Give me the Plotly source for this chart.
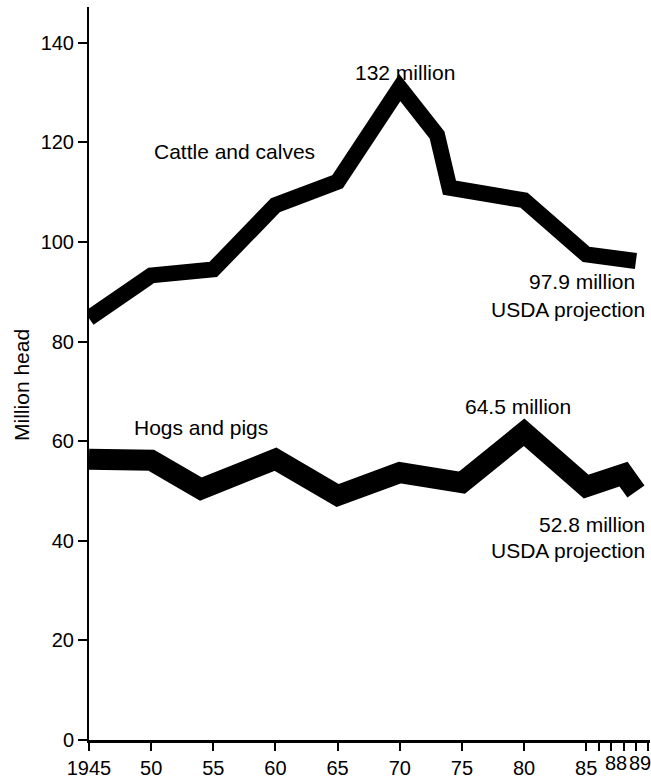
import plotly.graph_objects as go

# Data
cattle_years = [1945, 1950, 1955, 1960, 1965, 1970, 1973, 1974, 1980, 1985, 1989]
cattle_values = [84.7, 93.3, 94.5, 107.4, 112.1, 131.0, 121.5, 110.9, 108.4, 97.5, 96.2]

hog_years = [1945, 1950, 1954, 1960, 1965, 1970, 1975, 1980, 1985, 1988, 1989]
hog_values = [56.4, 56.2, 50.4, 56.4, 49.1, 53.7, 51.7, 61.8, 50.9, 53.4, 49.9]

x_tickvals = [1945, 1950, 1955, 1960, 1965, 1970, 1975, 1980, 1985, 1986, 1987, 1988, 1989, 1990]
x_ticktext = ["1945", "50", "55", "60", "65", "70", "75", "80", "85", "", "", "", "", ""]
y_tickvals = [0, 20, 40, 60, 80, 100, 120, 140]

FONT = "Liberation Sans, Arial, Helvetica, sans-serif"

fig = go.Figure()
fig.add_trace(go.Scatter(x=cattle_years, y=cattle_values, mode="lines",
                         line=dict(color="black", width=16), hoverinfo="skip"))
fig.add_trace(go.Scatter(x=hog_years, y=hog_values, mode="lines",
                         line=dict(color="black", width=21), hoverinfo="skip"))

ann_font = dict(family=FONT, size=21, color="black")
annotations = [
    dict(x=1970, y=134.1, text="132 million", xanchor="center", yanchor="middle", xshift=5),
    dict(x=1950.07, y=118.1, text="Cattle and calves", xanchor="left", yanchor="middle"),
    dict(x=1989.1, y=92.1, text="97.9 million", xanchor="right", yanchor="middle"),
    dict(x=1989.9, y=86.5, text="USDA projection", xanchor="right", yanchor="middle"),
    dict(x=1948.46, y=62.8, text="Hogs and pigs", xanchor="left", yanchor="middle"),
    dict(x=1979.5, y=66.9, text="64.5 million", xanchor="center", yanchor="middle"),
    dict(x=1989.9, y=43.3, text="52.8 million", xanchor="right", yanchor="middle"),
    dict(x=1989.9, y=38.0, text="USDA projection", xanchor="right", yanchor="middle"),
]
for a in annotations:
    a.update(xref="x", yref="y", showarrow=False, font=ann_font)

# y-axis title
annotations.append(dict(x=0, y=71.3, xref="paper", yref="y", text="Million head",
                        textangle=-90, showarrow=False, xanchor="center", yanchor="middle",
                        xshift=-67, font=ann_font))

# squeezed "88" "89" labels under the small ticks
annotations.append(dict(x=1987.4, y=0, xref="x", yref="paper", text="88", showarrow=False,
                        xanchor="center", yanchor="top", yshift=-10,
                        font=dict(family=FONT, size=20, color="black")))
annotations.append(dict(x=1989.3, y=0, xref="x", yref="paper", text="89", showarrow=False,
                        xanchor="center", yanchor="top", yshift=-10,
                        font=dict(family=FONT, size=20, color="black")))

fig.update_layout(
    width=651, height=780,
    margin=dict(l=89, r=1, t=7, b=37),
    paper_bgcolor="white", plot_bgcolor="white",
    showlegend=False,
    font=dict(family=FONT, size=20, color="black"),
    annotations=annotations,
    xaxis=dict(range=[1945, 1990.13], tickvals=x_tickvals, ticktext=x_ticktext,
               tickangle=0, showgrid=False, zeroline=False, showline=True,
               linecolor="black", linewidth=3, ticks="outside", ticklen=8,
               tickwidth=2, tickcolor="black",
               tickfont=dict(family=FONT, size=20, color="black")),
    yaxis=dict(range=[0, 147.2], tickvals=y_tickvals, showgrid=False, zeroline=False,
               showline=True, linecolor="black", linewidth=2, ticks="outside",
               ticklen=9, tickwidth=2, tickcolor="black",
               tickfont=dict(family=FONT, size=20, color="black")),
)

fig.write_html("out.html", config={"displayModeBar": False},
               post_script="document.body.style.margin='0';document.body.style.padding='0';")
